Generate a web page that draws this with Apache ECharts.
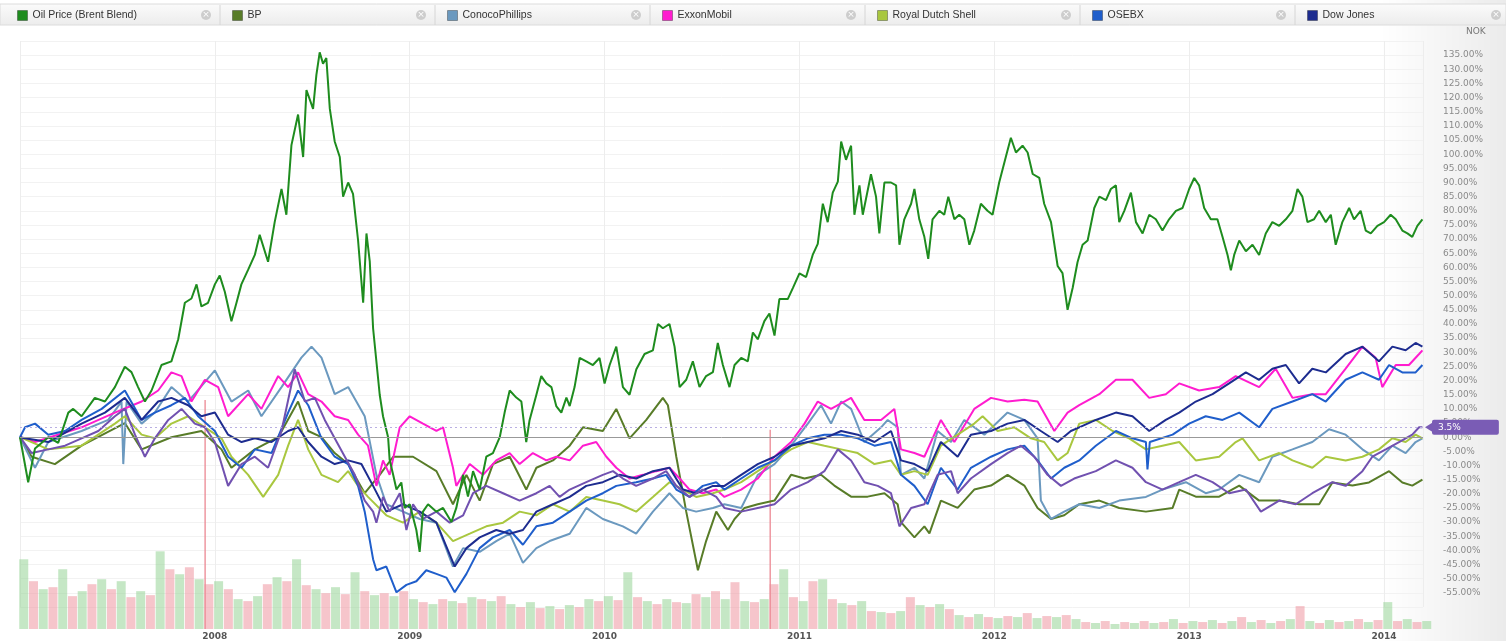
<!DOCTYPE html>
<html>
<head>
<meta charset="utf-8">
<script src="https://cdn.jsdelivr.net/npm/echarts@6/dist/echarts.min.js"></script>
<style>
  html, body { margin: 0; padding: 0; background: #fff; }
  #chart { width: 1506px; height: 641px; }
</style>
</head>
<body>
<div id="chart"></div>
<script>
// values are % change since start, x = decimal year
const oilPrice = [[2007.000,0],[2007.042,-15.9],[2007.077,-4],[2007.145,0],[2007.196,-2],[2007.248,8.7],[2007.273,10],[2007.316,7.4],[2007.384,13.9],[2007.436,12.6],[2007.487,17.7],[2007.538,24.9],[2007.572,23],[2007.606,17.7],[2007.641,12.6],[2007.675,16.5],[2007.726,25.5],[2007.777,26.8],[2007.812,34.6],[2007.846,47.5],[2007.880,49],[2007.906,54],[2007.931,46.2],[2007.965,47.5],[2008.000,54],[2008.025,57.1],[2008.051,51.4],[2008.085,41],[2008.111,47.5],[2008.136,54],[2008.171,59.2],[2008.205,64.4],[2008.230,71.5],[2008.273,62],[2008.307,76],[2008.342,87.7],[2008.367,78.6],[2008.393,103.2],[2008.427,114],[2008.453,99],[2008.470,122.7],[2008.504,116],[2008.521,128],[2008.538,136],[2008.555,132],[2008.572,134],[2008.590,116],[2008.615,104.5],[2008.641,99],[2008.658,85],[2008.684,90],[2008.709,86],[2008.735,69.5],[2008.761,47.5],[2008.778,72],[2008.795,62],[2008.812,38.5],[2008.846,15],[2008.863,7.4],[2008.889,0],[2008.897,-8],[2008.915,-13.3],[2008.932,-18.5],[2008.957,-16],[2008.974,-25],[2009.000,-23.7],[2009.034,-32.8],[2009.051,-40.5],[2009.068,-26.3],[2009.094,-23.7],[2009.137,-26.3],[2009.171,-25],[2009.214,-30],[2009.239,-25],[2009.274,-13.3],[2009.299,-21],[2009.325,-12],[2009.359,-18.5],[2009.393,-6.9],[2009.427,-5.6],[2009.462,0],[2009.487,8.7],[2009.513,16.5],[2009.547,14],[2009.573,12.6],[2009.598,-1.7],[2009.615,6],[2009.650,15],[2009.675,21.6],[2009.701,19],[2009.727,17.7],[2009.752,11],[2009.778,8.7],[2009.804,14],[2009.821,11],[2009.846,17.7],[2009.872,28],[2009.906,26.8],[2009.940,25.5],[2009.974,28],[2010.000,19],[2010.026,25.5],[2010.060,32],[2010.094,17.7],[2010.128,15],[2010.163,24],[2010.205,29.4],[2010.248,30.7],[2010.274,40],[2010.299,38.5],[2010.333,40],[2010.359,32],[2010.385,17.7],[2010.419,20.3],[2010.453,26.8],[2010.487,17.7],[2010.521,21.6],[2010.556,23],[2010.581,33.3],[2010.607,25.5],[2010.641,17.7],[2010.667,25.5],[2010.701,28],[2010.735,26.8],[2010.761,37],[2010.786,34.6],[2010.820,41],[2010.846,43.7],[2010.872,35.9],[2010.897,48.8],[2010.940,48.8],[2010.966,52.7],[2011.000,57.9],[2011.034,56.6],[2011.068,64.4],[2011.094,68.3],[2011.120,82.5],[2011.145,76],[2011.171,86.4],[2011.197,90.3],[2011.214,104.5],[2011.239,98],[2011.265,103],[2011.282,78.6],[2011.308,89],[2011.325,78.6],[2011.367,92.9],[2011.393,85],[2011.410,72],[2011.436,90],[2011.470,90],[2011.496,89],[2011.513,68],[2011.538,77],[2011.573,82.5],[2011.590,87.7],[2011.615,77],[2011.641,70.8],[2011.661,63],[2011.683,77],[2011.718,80],[2011.743,78.6],[2011.764,85],[2011.795,77],[2011.820,78.6],[2011.846,77],[2011.872,68],[2011.897,73],[2011.931,82.5],[2011.965,80],[2011.991,78.6],[2012.025,90],[2012.059,99],[2012.085,105.8],[2012.111,100.6],[2012.145,103],[2012.171,100.6],[2012.197,93],[2012.231,91.6],[2012.256,82.5],[2012.291,76],[2012.325,60.5],[2012.350,58],[2012.376,45],[2012.402,52.7],[2012.427,61.8],[2012.453,68],[2012.479,69.5],[2012.513,81],[2012.539,85],[2012.573,83.8],[2012.598,87.7],[2012.624,89],[2012.641,76],[2012.667,80],[2012.701,86.4],[2012.727,76],[2012.761,72],[2012.795,78.6],[2012.829,77],[2012.863,73],[2012.897,77],[2012.932,80],[2012.966,81],[2013.000,87.7],[2013.026,91.6],[2013.051,89],[2013.077,81],[2013.111,77],[2013.145,77],[2013.171,70.8],[2013.197,64.4],[2013.214,59],[2013.231,64.4],[2013.257,69.5],[2013.291,65.7],[2013.325,68],[2013.359,64.4],[2013.393,72],[2013.427,76],[2013.462,74.7],[2013.496,77],[2013.530,80],[2013.556,87.7],[2013.581,85],[2013.607,76],[2013.641,77],[2013.667,80],[2013.701,76],[2013.727,78.6],[2013.752,68],[2013.786,76],[2013.821,81],[2013.846,77],[2013.880,80],[2013.906,73],[2013.932,72],[2013.966,74.7],[2014.000,76],[2014.034,78.6],[2014.060,77],[2014.094,73],[2014.120,72],[2014.145,70.8],[2014.171,74.7],[2014.197,77]];

const bp = [[2007.000,0],[2007.060,-6.9],[2007.179,-9.5],[2007.316,-3],[2007.538,5],[2007.624,-4.3],[2007.777,0],[2007.931,2.2],[2008.034,-4.3],[2008.085,-10.8],[2008.205,-4.3],[2008.325,0],[2008.427,12.6],[2008.479,2.2],[2008.547,0],[2008.615,-5.6],[2008.684,-9.5],[2008.769,-19.8],[2008.846,-13.3],[2008.915,-6.9],[2009.017,-6.9],[2009.137,-12],[2009.222,-23.7],[2009.291,-13.3],[2009.359,-22.4],[2009.427,-9.5],[2009.513,-6.9],[2009.598,-18.5],[2009.650,-10.8],[2009.735,-8.2],[2009.821,-3],[2009.889,3.5],[2009.991,2.2],[2010.060,10],[2010.128,-0.4],[2010.214,6.1],[2010.299,13.9],[2010.325,11.3],[2010.368,-6.9],[2010.419,-26.3],[2010.479,-47],[2010.521,-36.7],[2010.573,-26.3],[2010.633,-32.8],[2010.667,-28.9],[2010.718,-25],[2010.786,-23.7],[2010.872,-22.4],[2010.957,-13.3],[2011.026,-14.6],[2011.111,-13.3],[2011.179,-17.1],[2011.265,-21],[2011.350,-21],[2011.436,-19.8],[2011.504,-23.7],[2011.521,-30],[2011.590,-35.4],[2011.641,-31.5],[2011.667,-34],[2011.726,-22.4],[2011.812,-25],[2011.897,-18.5],[2011.983,-17.1],[2012.068,-13.3],[2012.154,-17.1],[2012.222,-25],[2012.291,-28.9],[2012.359,-27.6],[2012.436,-23.7],[2012.539,-22.4],[2012.641,-25],[2012.778,-26.3],[2012.915,-25],[2012.949,-18.5],[2013.034,-21],[2013.154,-21],[2013.257,-17.1],[2013.359,-22.4],[2013.462,-22.4],[2013.564,-23.7],[2013.667,-23.7],[2013.735,-16],[2013.838,-17.1],[2013.923,-16],[2014.026,-12],[2014.094,-16],[2014.145,-17.1],[2014.197,-15]];

const conoco = [[2007.000,0],[2007.077,-10.8],[2007.145,-1.7],[2007.316,2.2],[2007.453,6.1],[2007.521,12.6],[2007.530,-9.5],[2007.547,12.6],[2007.624,4.8],[2007.692,8.7],[2007.777,17.7],[2007.863,12.6],[2008.000,23.6],[2008.085,12.6],[2008.171,16.5],[2008.239,7.4],[2008.342,17.7],[2008.444,28.1],[2008.496,32],[2008.547,28.1],[2008.615,15.2],[2008.684,17.7],[2008.769,7.4],[2008.829,-13.3],[2008.880,-23.7],[2008.966,-26.3],[2009.051,-28.9],[2009.137,-30.2],[2009.222,-45.7],[2009.274,-39.2],[2009.359,-40.5],[2009.444,-36.7],[2009.513,-34.1],[2009.581,-44.4],[2009.650,-39.2],[2009.718,-36.7],[2009.821,-34.1],[2009.906,-25],[2009.991,-28.9],[2010.094,-31.5],[2010.162,-34.1],[2010.248,-26.3],[2010.333,-19.8],[2010.402,-25],[2010.470,-26.3],[2010.556,-25],[2010.615,-23.7],[2010.701,-25],[2010.786,-13.3],[2010.872,-9.5],[2010.957,-3],[2011.043,4.8],[2011.111,11.3],[2011.162,4.8],[2011.214,12.6],[2011.265,10],[2011.333,-1.7],[2011.419,3.5],[2011.453,6.1],[2011.504,3.5],[2011.521,-13.3],[2011.590,-10.8],[2011.641,-14.6],[2011.709,2.2],[2011.778,-1.7],[2011.846,6.1],[2011.949,0.9],[2012.068,8.7],[2012.154,6.1],[2012.222,-0.4],[2012.239,-22.4],[2012.291,-28.9],[2012.359,-26.3],[2012.436,-23.7],[2012.539,-25],[2012.641,-22.4],[2012.778,-21.1],[2012.863,-18.5],[2012.983,-15.9],[2013.085,-19.8],[2013.154,-18.5],[2013.257,-13.3],[2013.359,-15.9],[2013.427,-6.9],[2013.530,-4.3],[2013.632,-1.7],[2013.718,2.8],[2013.803,0.9],[2013.889,-4.3],[2013.974,-8.2],[2014.043,-3],[2014.111,-5.6],[2014.162,-1.7],[2014.197,-0.4]];

const exxon = [[2007.000,0],[2007.077,-1.7],[2007.316,3.5],[2007.487,8.7],[2007.624,12.6],[2007.709,16.5],[2007.777,22.9],[2007.829,21.6],[2007.880,12.6],[2007.949,20.3],[2008.017,17.7],[2008.068,7.4],[2008.171,15.2],[2008.239,10],[2008.325,21.6],[2008.376,17.7],[2008.427,22.9],[2008.479,15.2],[2008.547,12.6],[2008.615,7.4],[2008.684,6.1],[2008.735,0.9],[2008.786,-3],[2008.829,-17.2],[2008.863,-8.2],[2008.897,-13.3],[2008.949,3.5],[2009.000,7.4],[2009.068,4.8],[2009.137,2.2],[2009.171,3.5],[2009.222,-10.8],[2009.239,-17.2],[2009.308,-9.5],[2009.376,-13.3],[2009.444,-8.2],[2009.513,-5.6],[2009.564,-9.5],[2009.632,-5.6],[2009.701,-8.2],[2009.752,-6.9],[2009.821,-8.2],[2009.889,-3],[2009.957,-1.7],[2010.009,-6.9],[2010.060,-10.8],[2010.128,-14.6],[2010.197,-13.3],[2010.265,-12],[2010.333,-10.8],[2010.385,-14.6],[2010.436,-18.5],[2010.504,-19.8],[2010.573,-18.5],[2010.615,-21.1],[2010.701,-18.5],[2010.786,-14.6],[2010.872,-6.9],[2010.957,-1.7],[2011.026,4.8],[2011.094,12.6],[2011.162,10],[2011.265,13.9],[2011.333,6.1],[2011.419,6.1],[2011.487,10],[2011.521,-4.3],[2011.590,-5.6],[2011.641,-6.9],[2011.726,6.1],[2011.795,-1.7],[2011.897,10],[2011.983,13.9],[2012.068,12.6],[2012.154,13.2],[2012.222,12.6],[2012.308,2.2],[2012.376,8.7],[2012.436,11.3],[2012.539,15.2],[2012.624,20.3],[2012.709,20.3],[2012.795,13.9],[2012.880,15.2],[2012.949,19],[2013.051,16.5],[2013.154,17.7],[2013.239,21.6],[2013.359,17.7],[2013.444,24.2],[2013.530,13.9],[2013.632,15.2],[2013.701,15.2],[2013.803,24.2],[2013.889,32],[2013.957,28.1],[2013.991,17.7],[2014.060,25.5],[2014.128,25.5],[2014.180,29.4],[2014.197,30.7]];

const shell = [[2007.000,0],[2007.145,-4.3],[2007.316,-3],[2007.487,4.8],[2007.538,7.4],[2007.624,0.9],[2007.692,-0.4],[2007.777,4.8],[2007.863,7.4],[2007.949,3.5],[2008.034,-0.4],[2008.085,-6.9],[2008.171,-13.3],[2008.248,-21.1],[2008.325,-13.3],[2008.376,-3],[2008.427,6.1],[2008.479,-4.3],[2008.547,-13.3],[2008.632,-15.9],[2008.684,-12],[2008.735,-17.2],[2008.786,-21.1],[2008.880,-27.6],[2008.966,-30.2],[2009.051,-26.3],[2009.137,-30.2],[2009.222,-36.7],[2009.308,-34.1],[2009.393,-31.5],[2009.479,-30.2],[2009.564,-26.3],[2009.650,-27.6],[2009.735,-23.7],[2009.821,-26.3],[2009.906,-21.1],[2009.991,-22.4],[2010.077,-23.7],[2010.162,-26.3],[2010.248,-21.1],[2010.333,-15.9],[2010.402,-18.5],[2010.470,-21.1],[2010.556,-19.8],[2010.615,-18.5],[2010.701,-15.9],[2010.786,-12],[2010.872,-8.2],[2010.957,-4.3],[2011.043,-1.7],[2011.128,-3],[2011.214,-4.3],[2011.299,-5.6],[2011.385,-9.5],[2011.470,-8.2],[2011.521,-13.3],[2011.590,-12],[2011.658,-13.3],[2011.726,-3],[2011.812,0.9],[2011.897,4.8],[2011.940,7.4],[2012.017,2.2],[2012.103,3.5],[2012.188,-0.4],[2012.256,-1.7],[2012.325,-8.2],[2012.376,-5.6],[2012.436,4.8],[2012.521,6.1],[2012.607,2.2],[2012.692,-0.4],[2012.778,-4.3],[2012.863,-3],[2012.949,-1.7],[2013.034,-8.2],[2013.154,-6.9],[2013.239,-1.7],[2013.274,-0.4],[2013.359,-8.2],[2013.462,-5.6],[2013.530,-8.2],[2013.632,-10.8],[2013.701,-6.9],[2013.803,-8.2],[2013.889,-6.9],[2013.974,-4.3],[2014.043,-0.4],[2014.111,-1.7],[2014.162,0.9],[2014.197,-0.4]];

const osebx = [[2007.000,0],[2007.026,3.5],[2007.077,4.8],[2007.145,0.9],[2007.231,2.2],[2007.316,6.1],[2007.419,10],[2007.538,16.5],[2007.624,6.1],[2007.692,8.7],[2007.777,11.3],[2007.846,13.9],[2007.914,7.4],[2008.000,2.2],[2008.068,-6.9],[2008.137,-10.8],[2008.205,-4.3],[2008.291,-5.6],[2008.376,8.7],[2008.427,16.5],[2008.479,11.3],[2008.547,-0.4],[2008.615,-6.9],[2008.684,-9.5],[2008.735,-17.2],[2008.769,-26.3],[2008.812,-43.1],[2008.829,-47],[2008.880,-45.7],[2008.932,-54.8],[2008.983,-52.2],[2009.034,-50.9],[2009.085,-47],[2009.137,-48.3],[2009.188,-49.6],[2009.231,-54.8],[2009.291,-48.3],[2009.359,-39.2],[2009.427,-35.4],[2009.513,-32.8],[2009.581,-38],[2009.650,-31.5],[2009.735,-30.2],[2009.821,-26.3],[2009.906,-22.4],[2009.991,-19.8],[2010.060,-17.2],[2010.162,-15.9],[2010.248,-14.6],[2010.316,-13.3],[2010.368,-18.5],[2010.436,-21.1],[2010.504,-17.2],[2010.573,-15.9],[2010.615,-18.5],[2010.701,-14.6],[2010.786,-10.8],[2010.872,-8.2],[2010.957,-3],[2011.043,-0.4],[2011.128,0.9],[2011.214,0.9],[2011.299,-0.4],[2011.385,-3],[2011.470,-1.7],[2011.521,-13.3],[2011.590,-17.2],[2011.658,-23.7],[2011.726,-10.8],[2011.812,-18.5],[2011.880,-10.8],[2011.983,-6.9],[2012.068,-4.3],[2012.154,-3],[2012.222,-8.2],[2012.291,-14.6],[2012.359,-10.8],[2012.436,-8.2],[2012.521,-3],[2012.624,2.2],[2012.709,-0.4],[2012.778,-1.7],[2012.786,-11.4],[2012.798,-1.7],[2012.915,0.9],[2013.000,4.8],[2013.085,7.4],[2013.171,6.1],[2013.257,8.7],[2013.359,3.5],[2013.427,10],[2013.530,12.6],[2013.632,15.2],[2013.701,12.6],[2013.803,20.3],[2013.889,22.9],[2013.974,20.3],[2014.026,25.5],[2014.094,22.9],[2014.162,22.9],[2014.197,25.5]];

const dowJones = [[2007.000,0],[2007.026,-0.4],[2007.145,-1.7],[2007.316,4.8],[2007.436,8.7],[2007.538,13.9],[2007.624,6.1],[2007.709,12.6],[2007.777,13.9],[2007.863,11.3],[2007.931,7.4],[2008.000,8.7],[2008.068,0.9],[2008.137,-1.7],[2008.205,-0.4],[2008.291,-1.7],[2008.376,2.2],[2008.427,3.5],[2008.479,-1.7],[2008.547,-6.9],[2008.615,-9.5],[2008.684,-8.2],[2008.752,-9.5],[2008.812,-17.2],[2008.880,-26.3],[2008.966,-23.7],[2009.051,-26.3],[2009.137,-30.2],[2009.231,-45.7],[2009.291,-39.2],[2009.359,-35.4],[2009.444,-32.8],[2009.513,-34.1],[2009.581,-32.8],[2009.650,-26.3],[2009.735,-23.7],[2009.821,-21.1],[2009.906,-17.2],[2009.991,-15.9],[2010.077,-13.3],[2010.162,-14.6],[2010.248,-12],[2010.333,-10.8],[2010.402,-18.5],[2010.470,-19.8],[2010.556,-17.2],[2010.615,-17.2],[2010.701,-13.3],[2010.786,-9.5],[2010.872,-6.9],[2010.957,-3],[2011.043,-1.7],[2011.128,-0.4],[2011.214,2.2],[2011.299,0.9],[2011.385,-1.7],[2011.470,2.2],[2011.521,-8.2],[2011.590,-9.5],[2011.658,-12],[2011.726,-1.7],[2011.812,-6.9],[2011.880,0.9],[2011.983,2.2],[2012.068,4.8],[2012.154,6.1],[2012.239,2.2],[2012.325,-1.7],[2012.393,2.2],[2012.436,3.5],[2012.521,6.1],[2012.624,8.7],[2012.709,7.4],[2012.795,2.2],[2012.880,6.1],[2012.949,8.7],[2013.034,12.6],[2013.120,15.2],[2013.205,19],[2013.291,22.9],[2013.359,20.3],[2013.427,24.2],[2013.496,25.5],[2013.564,19],[2013.632,24.2],[2013.701,22.9],[2013.803,29.4],[2013.889,32],[2013.974,26.8],[2014.043,32],[2014.111,30.7],[2014.162,33.3],[2014.197,32]];

// 8th series, its legend tab is cut off in the source
const statoil = [[2007.000,0],[2007.060,-5.6],[2007.145,-4.3],[2007.231,-3],[2007.316,-0.4],[2007.402,2.2],[2007.487,7.4],[2007.538,10],[2007.590,0.9],[2007.641,-6.9],[2007.692,-0.4],[2007.761,6.1],[2007.829,10],[2007.897,4.8],[2007.949,3.5],[2008.000,-1.7],[2008.068,-17.2],[2008.137,-9.5],[2008.205,-6.9],[2008.273,-10.8],[2008.342,2.2],[2008.410,24],[2008.462,12.6],[2008.513,13.9],[2008.564,6.1],[2008.615,-0.4],[2008.667,-6.9],[2008.718,-13.3],[2008.769,-22.4],[2008.812,-26.3],[2008.829,-30.2],[2008.863,-21.1],[2008.897,-26.3],[2008.949,-19.8],[2008.983,-32.8],[2009.017,-23.7],[2009.068,-28.9],[2009.137,-26.3],[2009.205,-30.2],[2009.274,-27.6],[2009.325,-19.8],[2009.393,-17.2],[2009.479,-19.8],[2009.564,-22.4],[2009.650,-19.8],[2009.718,-17.2],[2009.769,-21.1],[2009.821,-18.5],[2009.906,-15.9],[2009.991,-13.3],[2010.043,-12],[2010.094,-14.6],[2010.162,-17.2],[2010.248,-14.6],[2010.316,-12],[2010.368,-17.2],[2010.436,-21.1],[2010.504,-18.5],[2010.573,-21.1],[2010.615,-25],[2010.701,-26.3],[2010.786,-25],[2010.872,-23.7],[2010.957,-18.5],[2011.043,-15.9],[2011.128,-12],[2011.197,-4.3],[2011.265,-8.2],[2011.333,-15.9],[2011.402,-17.2],[2011.470,-19.8],[2011.513,-31.5],[2011.573,-25],[2011.641,-23.7],[2011.709,-13.3],[2011.778,-12],[2011.812,-19.8],[2011.880,-14.6],[2011.983,-9.5],[2012.068,-5.6],[2012.137,-3],[2012.205,-6.9],[2012.273,-13.3],[2012.342,-17.2],[2012.410,-14.6],[2012.521,-12],[2012.624,-8.2],[2012.709,-10.8],[2012.778,-15.9],[2012.863,-18.5],[2012.949,-15.9],[2013.034,-13.3],[2013.120,-15.9],[2013.205,-19.8],[2013.291,-18.5],[2013.368,-26.3],[2013.462,-22.4],[2013.547,-23.7],[2013.632,-19.8],[2013.735,-15.9],[2013.803,-17.2],[2013.889,-12],[2013.940,-6.9],[2014.009,-4.3],[2014.077,-1.7],[2014.145,0.9],[2014.180,3.5],[2014.197,3.5]];

// traded volume, one bar every 0.05 year from 2007.0
const volume = [70,48,40,42,60,33,38,45,50,40,48,32,38,34,78,60,55,62,50,230,48,40,30,28,33,45,52,48,70,44,40,36,42,35,57,38,34,36,33,38,30,27,25,30,28,26,32,30,28,33,25,22,27,21,23,20,24,22,30,28,33,29,57,32,28,25,30,27,26,35,32,38,30,47,28,27,30,200,60,32,28,48,50,30,26,24,28,18,17,16,18,32,24,22,25,20,14,12,15,12,11,13,12,16,11,13,12,14,10,7,6,8,5,7,6,8,6,7,10,6,8,7,9,6,8,12,7,9,6,8,10,23,8,6,9,7,8,10,7,9,27,8,10,7,8];

const legendNames = ['Oil Price (Brent Blend)', 'BP', 'ConocoPhillips', 'ExxonMobil', 'Royal Dutch Shell', 'OSEBX', 'Dow Jones'];

const xMin = 2007;
const xMax = 2014.2;
const volStep = 0.05;
const lastStatoil = statoil[statoil.length - 1][1];

const chart = echarts.init(document.getElementById('chart'));

function line(name, data, color, extra) {
  return Object.assign({
    name: name,
    type: 'line',
    xAxisIndex: 0,
    yAxisIndex: 0,
    data: data,
    symbol: 'none',
    showSymbol: false,
    color: color,
    lineStyle: { width: 2, color: color },
    emphasis: { disabled: true },
    z: 3
  }, extra || {});
}

const pink = 'rgba(238,150,160,0.55)';
const green = 'rgba(150,212,150,0.55)';
const volColor = (i) => (i % 2 ? pink : green);

// very tall days are drawn as thin needles, the rest as a dense band
const volBand = volume.map((h, i) => ({
  value: [xMin + i * volStep, h > 100 ? 45 : h],
  itemStyle: { color: volColor(i) }
}));
const volNeedles = volume
  .map((h, i) => ({ value: [xMin + i * volStep, h], itemStyle: { color: 'rgba(236,140,150,0.9)' } }))
  .filter((d) => d.value[1] > 100);

const tabW = 215;

chart.setOption({
  animation: false,
  textStyle: { fontFamily: 'DejaVu Sans' },
  grid: [
    { left: 20, right: 83, top: 41, height: 566 },
    { left: 20, right: 83, top: 380, height: 250 }
  ],
  legend: legendNames.map((n, i) => ({
    data: [n],
    left: 17 + tabW * i,
    top: 10,
    padding: 0,
    itemWidth: 10,
    itemHeight: 10,
    icon: 'rect',
    itemStyle: { borderColor: 'rgba(0,0,0,0.3)', borderWidth: 1 },
    textStyle: { fontSize: 10.5, color: '#333', fontFamily: 'Liberation Sans' }
  })),
  xAxis: [
    {
      type: 'value', gridIndex: 0, min: xMin, max: xMax, interval: 1,
      axisLabel: { show: false }, axisTick: { show: false }, axisLine: { show: false },
      splitLine: { show: true, lineStyle: { color: '#ededed' } }
    },
    {
      type: 'value', gridIndex: 1, min: xMin, max: xMax, interval: 1,
      axisTick: { show: false }, axisLine: { show: false }, splitLine: { show: false },
      axisLabel: {
        margin: 3, fontSize: 9, fontWeight: 'bold', color: '#555',
        formatter: (v) => (Number.isInteger(v) && v > xMin ? String(v) : '')
      }
    }
  ],
  yAxis: [
    {
      type: 'value', gridIndex: 0, position: 'right', min: -60, max: 140, interval: 5,
      axisLine: { show: false }, axisTick: { show: false },
      splitLine: { lineStyle: { color: '#f2f2f2' } },
      axisLabel: {
        align: 'left', margin: 20, fontSize: 9, color: '#8a8a8a',
        formatter: (v) => (v === 140 || v === -60 ? '' : v.toFixed(2) + '%')
      }
    },
    { type: 'value', gridIndex: 1, min: 0, max: 250, show: false }
  ],
  series: [
    {
      name: 'Volume',
      type: 'bar',
      xAxisIndex: 1,
      yAxisIndex: 1,
      barWidth: 9,
      z: 1,
      emphasis: { disabled: true },
      data: volBand
    },
    {
      name: 'Volume peaks',
      type: 'bar',
      xAxisIndex: 1,
      yAxisIndex: 1,
      barWidth: 1.5,
      barGap: '-100%',
      z: 1,
      emphasis: { disabled: true },
      data: volNeedles
    },
    line('BP', bp, '#587c28'),
    line('ConocoPhillips', conoco, '#6b99bf'),
    line('ExxonMobil', exxon, '#ff1ccf'),
    line('Royal Dutch Shell', shell, '#a9c73f'),
    line('OSEBX', osebx, '#1f5ecb'),
    line('Dow Jones', dowJones, '#1d2c8f'),
    line('Statoil', statoil, '#7151b0', {
      markLine: {
        silent: true,
        symbol: 'none',
        animation: false,
        data: [
          { yAxis: 0, lineStyle: { color: '#999', width: 1, type: 'solid' }, label: { show: false } },
          {
            yAxis: lastStatoil,
            lineStyle: { color: '#b9aee2', width: 1, type: [2, 3] },
            label: {
              show: true, position: 'end', distance: 9,
              formatter: lastStatoil + '%',
              color: '#fff', fontSize: 9,
              backgroundColor: '#7a5cb5', borderRadius: 2,
              padding: [3, 38, 3, 6]
            }
          }
        ]
      }
    }),
    line('Oil Price (Brent Blend)', oilPrice, '#1e8c1e')
  ]
});

// decoration: tab bar with close buttons, currency label, pointer of the value flag
const py = chart.convertToPixel({ yAxisIndex: 0 }, lastStatoil);
const deco = [
  {
    type: 'rect', z: -1, silent: true,
    shape: { x: 1380, y: 0, width: 126, height: 641 },
    style: { fill: new echarts.graphic.LinearGradient(0, 0, 1, 0, [
      { offset: 0, color: 'rgba(0,0,0,0)' }, { offset: 1, color: 'rgba(0,0,0,0.08)' }
    ]) }
  },
  {
    type: 'rect', z: 0, silent: true,
    shape: { x: 0, y: 4, width: 1506, height: 21 },
    style: { fill: new echarts.graphic.LinearGradient(0, 0, 0, 1, [
      { offset: 0, color: '#fbfbfb' }, { offset: 1, color: '#ececec' }
    ]), stroke: '#dcdcdc', lineWidth: 1 }
  },
  {
    type: 'text', z: 5, silent: true, x: 1466, y: 27,
    style: { text: 'NOK', fill: '#777', fontSize: 9, fontFamily: 'DejaVu Sans' }
  },
  {
    type: 'polygon', z: 10, silent: true,
    shape: { points: [[1425, py], [1433, py - 5], [1433, py + 5]] },
    style: { fill: '#7a5cb5' }
  }
];
legendNames.forEach((n, i) => {
  const cx = 206 + tabW * i;
  deco.push({
    type: 'circle', z: 5, silent: true,
    shape: { cx: cx, cy: 15, r: 5 },
    style: { fill: '#cdcdcd' }
  });
  deco.push({
    type: 'text', z: 6, silent: true, x: cx, y: 15,
    style: { text: '×', fill: '#fff', fontSize: 9, align: 'center', verticalAlign: 'middle', fontFamily: 'DejaVu Sans' }
  });
  deco.push({
    type: 'line', z: 5, silent: true,
    shape: { x1: cx + 14, y1: 5, x2: cx + 14, y2: 25 },
    style: { stroke: '#d6d6d6', lineWidth: 1 }
  });
});
chart.setOption({ graphic: deco });
</script>
</body>
</html>
